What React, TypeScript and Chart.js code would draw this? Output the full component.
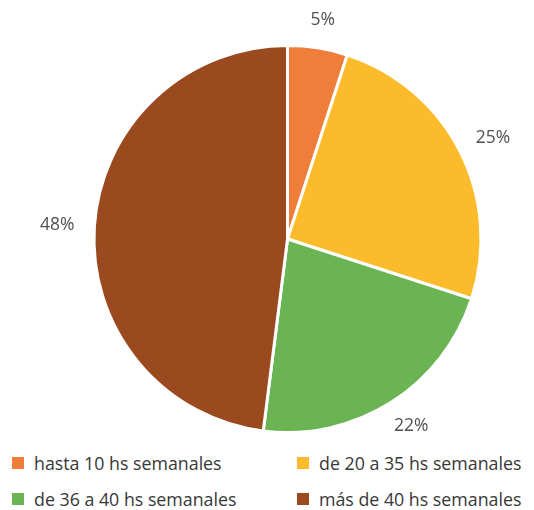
import React, { useEffect, useRef } from "react";
import { Chart, registerables } from "chart.js";

Chart.register(...registerables);

const categories = [
  "hasta 10 hs semanales",
  "de 20 a 35 hs semanales",
  "de 36 a 40 hs semanales",
  "más de 40 hs semanales",
];
const values = [5, 25, 22, 48];
const valueLabels = ["5%", "25%", "22%", "48%"];
const colors = ["#EF7E3B", "#FCBB2A", "#6BB453", "#9B4A1F"];

const FONT = "'Open Sans', 'Noto Sans', sans-serif";

const outsideLabels = {
  id: "outsideLabels",
  afterDatasetsDraw(chart: any) {
    const ctx = chart.ctx;
    const meta = chart.getDatasetMeta(0);
    ctx.save();
    ctx.font = `17.5px ${FONT}`;
    ctx.fillStyle = "#505050";
    ctx.textAlign = "center";
    ctx.textBaseline = "middle";
    meta.data.forEach((arc: any, i: number) => {
      const mid = (arc.startAngle + arc.endAngle) / 2;
      const r = arc.outerRadius + 20;
      const ax = arc.x + Math.cos(mid) * r;
      const ay = arc.y + Math.sin(mid) * r;
      const text = valueLabels[i];
      const w = ctx.measureText(text).width;
      const h = 16;
      const cx = ax + (w / 2) * Math.cos(mid);
      const cy = ay + (h / 2) * Math.sin(mid);
      ctx.fillText(text, cx, cy);
    });
    ctx.restore();
  },
};

export default function App() {
  const ref = useRef<HTMLCanvasElement | null>(null);
  useEffect(() => {
    if (!ref.current) return;
    const chart = new Chart(ref.current, {
      type: "pie",
      data: {
        labels: categories,
        datasets: [
          {
            data: values,
            backgroundColor: colors,
            borderColor: "#ffffff",
            borderWidth: 3,
          },
        ],
      },
      options: {
        animation: false,
        responsive: false,
        layout: { padding: { top: 44, left: 92, right: 51, bottom: 16 } },
        plugins: {
          legend: { display: false },
          tooltip: { enabled: false },
        },
      },
      plugins: [outsideLabels],
    });
    return () => chart.destroy();
  }, []);

  const itemStyle: React.CSSProperties = {
    position: "absolute",
    display: "flex",
    alignItems: "center",
    fontFamily: FONT,
    fontSize: 17.8,
    color: "#383838",
    whiteSpace: "nowrap",
  };
  const pos = [
    { left: 12, top: 463 },
    { left: 297, top: 463 },
    { left: 12, top: 499 },
    { left: 297, top: 499 },
  ];

  return (
    <div style={{ position: "absolute", left: 0, top: 0, width: 534, height: 510, background: "#fff" }}>
      <canvas ref={ref} width={534} height={450} style={{ position: "absolute", left: 0, top: 0 }} />
      {categories.map((c, i) => (
        <div key={c} style={{ ...itemStyle, left: pos[i].left, top: pos[i].top, transform: "translateY(-50%)" }}>
          <span style={{ display: "inline-block", width: 12, height: 12, background: colors[i], marginRight: 10 }} />
          <span>{c}</span>
        </div>
      ))}
    </div>
  );
}
